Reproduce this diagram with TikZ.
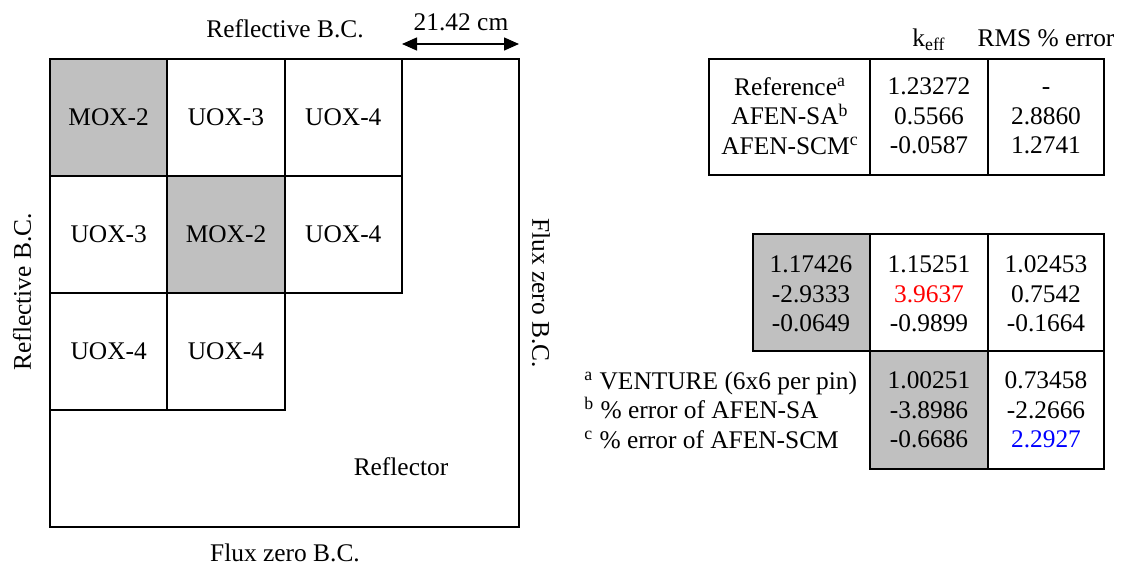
\documentclass[tikz,border=0pt]{standalone}
\usepackage{fontspec}
\setmainfont{Liberation Serif}
\usetikzlibrary{arrows.meta}
\definecolor{fuelgray}{RGB}{192,192,192}
\tikzset{
  cell/.style={draw=black, line width=0.9pt},
  txt/.style={font=\fontsize{12.7}{14.75}\selectfont, inner sep=1pt},
  col/.style={txt, align=center},
}

\begin{document}
\begin{tikzpicture}[x=0.5pt, y=-0.5pt]
  \useasboundingbox (0,0) rectangle (1123,569);
  % Core boundary
  \draw[cell] (50,59) rectangle (519,527);
  % Fuel assemblies
  \foreach \c/\r/\lab/\clr [count=\i] in {0/0/MOX-2/fuelgray, 1/0/UOX-3/white, 2/0/UOX-4/white,
      0/1/UOX-3/white, 1/1/MOX-2/fuelgray, 2/1/UOX-4/white,
      0/2/UOX-4/white, 1/2/UOX-4/white}{
    \draw[cell, fill=\clr] ({50+117.33*\c},{59+117*\r}) rectangle ++(117.33,117);
    \node[txt] (fa\i) at ({108.67+117.33*\c},{117.5+117*\r}) {\lab};
  }
  \node[txt] (refl) at (401,467) {Reflector};
  % Boundary conditions
  \node[txt] (topbc) at (285,29) {Reflective B.C.};
  \node[txt] (botbc) at (285,553) {Flux zero B.C.};
  \node[txt, rotate=90] (leftbc) at (22,292) {Reflective B.C.};
  \node[txt, rotate=-90] (rightbc) at (541,293) {Flux zero B.C.};
  % Reflector width
  \coordinate (wl) at (402,44);
  \coordinate (wr) at (519,44);
  \draw[line width=0.7pt, {Triangle[length=7.5pt,width=6.5pt]}-{Triangle[length=7.5pt,width=6.5pt]}] (wl) -- (wr);
  \node[txt] (wlab) at (461,22) {21.42 cm};

  % k-eff table
  \node[txt] (hk) at (929,40) {k\textsubscript{eff}};
  \node[txt] (hrms) at (1046,38) {RMS \% error};
  \draw[cell] (709,59) rectangle (1104,175);
  \draw[cell] (870,59) -- (870,175);
  \draw[cell] (988,59) -- (988,175);
  \node[col] (kname) at (790,116) {Reference\textsuperscript{a}\\AFEN-SA\textsuperscript{b}\\AFEN-SCM\textsuperscript{c}};
  \node[col] (kval) at (929,116) {1.23272\\0.5566\\-0.0587};
  \node[col] (krms) at (1046,116) {\vphantom{0}-\\2.8860\\1.2741};

  % Assembly power table
  \draw[cell, fill=fuelgray] (753,234) rectangle (870,351);
  \draw[cell] (870,234) rectangle (988,351);
  \draw[cell] (988,234) rectangle (1104,351);
  \draw[cell, fill=fuelgray] (870,351) rectangle (988,469);
  \draw[cell] (988,351) rectangle (1104,469);
  \node[col] (p11) at (811,294) {1.17426\\-2.9333\\-0.0649};
  \node[col] (p12) at (929,294) {1.15251\\\textcolor{red}{3.9637}\\-0.9899};
  \node[col] (p13) at (1046,294) {1.02453\\0.7542\\-0.1664};
  \node[col] (p22) at (929,410) {1.00251\\-3.8986\\-0.6686};
  \node[col] (p23) at (1046,410) {0.73458\\-2.2666\\\textcolor{blue}{2.2927}};
  % Notes
  \node[txt, align=left, anchor=west] (notes) at (582,410) {\textsuperscript{a} VENTURE (6x6 per pin)\\\textsuperscript{b} \% error of AFEN-SA\\\textsuperscript{c} \% error of AFEN-SCM};
\end{tikzpicture}
\end{document}
